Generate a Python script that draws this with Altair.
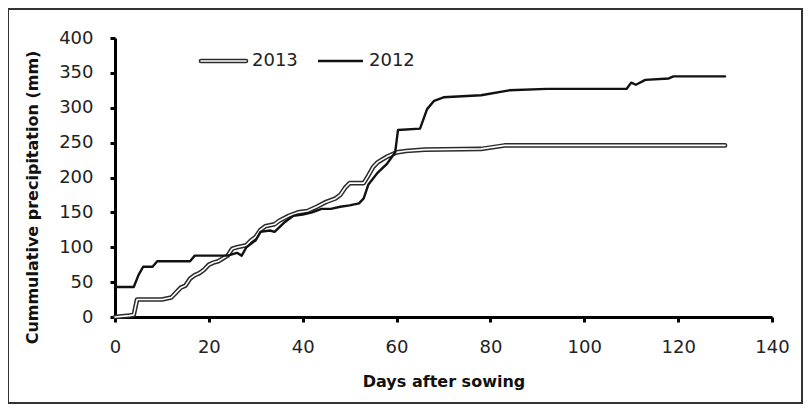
import altair as alt
import pandas as pd

# ---- data ----
days_2013 = [0, 3, 4, 4.7, 10, 12, 13, 14, 15, 16, 17, 18, 19, 20, 21, 22, 23, 24, 25, 26,
             28, 29, 30, 31, 32, 34, 35, 37, 39, 41, 43, 45, 47, 48, 49, 50, 53, 54, 55, 56,
             58, 60, 62, 66, 78, 83, 130]
prec_2013 = [0, 2, 3, 25, 25, 28, 35, 42, 45, 55, 60, 63, 68, 75, 78, 80, 84, 88, 98, 100,
             103, 110, 115, 125, 130, 133, 138, 145, 150, 152, 158, 165, 170, 175, 185, 192, 192, 203, 215, 222,
             230, 236, 238, 240, 241, 246, 246]

days_2012 = [0, 4, 5, 6, 8, 9, 16, 17, 24, 26, 27, 28, 30, 31, 33, 34, 36, 38, 40, 42,
             44, 46, 48, 50, 52, 53, 54, 56, 58, 59.7, 60.3, 65, 66.5, 68, 70, 78, 84, 92,
             109, 110, 111, 113, 118, 119, 130]
prec_2012 = [43, 43, 60, 72, 72, 80, 80, 88, 88, 92, 88, 100, 110, 122, 124, 122, 135, 145, 147, 150,
             155, 155, 158, 160, 163, 170, 190, 207, 220, 236, 268, 270, 298, 310, 315, 318, 325, 327,
             327, 336, 333, 340, 342, 345, 345]

x_ticks = [0, 20, 40, 60, 80, 100, 120, 140]
y_ticks = [0, 50, 100, 150, 200, 250, 300, 350, 400]
legend_labels = ["2013", "2012"]

df13 = pd.DataFrame({"day": days_2013, "mm": prec_2013})
df12 = pd.DataFrame({"day": days_2012, "mm": prec_2012})
one = pd.DataFrame({"k": [0]})

W, H = 657, 279
FONT = "DejaVu Sans"

x_enc = alt.X("day:Q", scale=alt.Scale(domain=[0, 140], nice=False),
              axis=alt.Axis(values=x_ticks, title="Days after sowing", labelOverlap=False,
                            labelFlush=False, labelPadding=16, titleY=64, titleBaseline="middle"))
y_enc = alt.Y("mm:Q", scale=alt.Scale(domain=[0, 400], nice=False),
              axis=alt.Axis(values=y_ticks, title="Cummulative precipitation (mm)",
                            labelOverlap=False, labelFlush=False, labelPadding=17,
                            titleX=-83, titleY=159,
                            titleAngle=270, titleBaseline="middle", titleAlign="center"))

l13_outer = alt.Chart(df13).mark_line(color="#2b2b2b", strokeWidth=4.6, strokeCap="round",
                                      strokeJoin="round").encode(x=x_enc, y=y_enc)
l13_inner = alt.Chart(df13).mark_line(color="#ffffff", strokeWidth=1.6, strokeCap="round",
                                      strokeJoin="round").encode(x=x_enc, y=y_enc)
l12 = alt.Chart(df12).mark_line(color="#111111", strokeWidth=2.4, strokeJoin="round",
                                strokeCap="round").encode(x=x_enc, y=y_enc)

# legend (manual, to reproduce the double-line symbol)
leg13_o = alt.Chart(one).mark_rule(color="#2b2b2b", strokeWidth=4.6, strokeCap="round").encode(
    x=alt.value(86), x2=alt.value(131), y=alt.value(23))
leg13_i = alt.Chart(one).mark_rule(color="#ffffff", strokeWidth=1.6, strokeCap="round").encode(
    x=alt.value(86), x2=alt.value(131), y=alt.value(23))
leg12 = alt.Chart(one).mark_rule(color="#111111", strokeWidth=2.4).encode(
    x=alt.value(203), x2=alt.value(248), y=alt.value(23))
leg_t13 = alt.Chart(one).mark_text(text=legend_labels[0], font=FONT, fontSize=18, align="left",
                                   baseline="middle", color="#222222").encode(
    x=alt.value(137), y=alt.value(23))
leg_t12 = alt.Chart(one).mark_text(text=legend_labels[1], font=FONT, fontSize=18, align="left",
                                   baseline="middle", color="#222222").encode(
    x=alt.value(254), y=alt.value(23))

frame = alt.Chart(one).mark_rect(fill=None, stroke="#333333", strokeWidth=2).encode(
    x=alt.value(-107), x2=alt.value(W + 30), y=alt.value(-29), y2=alt.value(H + 86))

chart = alt.layer(frame, l13_outer, l13_inner, l12, leg13_o, leg13_i, leg12, leg_t13, leg_t12).properties(
    width=W, height=H,
    autosize=alt.AutoSizeParams(type="none"),
    padding={"left": 107, "top": 30, "right": 31, "bottom": 87},
).configure_view(stroke=None).configure_axis(
    grid=False, domainColor="#000000", domainWidth=3, tickColor="#000000", tickWidth=3,
    tickSize=5, labelFont=FONT, labelFontSize=18, labelColor="#222222",
    titleFont=FONT, titleFontSize=16, titleFontWeight="bold", titleColor="#111111",
)

chart.save("out.html", embed_options={"renderer": "svg", "actions": False})
